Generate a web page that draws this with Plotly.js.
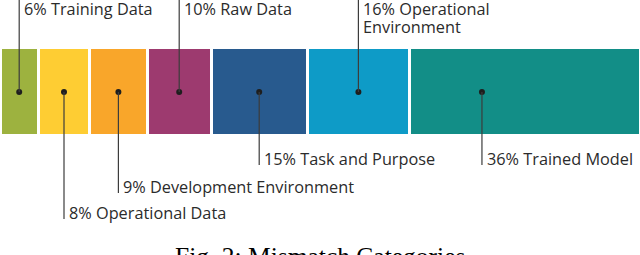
<!DOCTYPE html>
<html>
<head>
<meta charset="utf-8">
<script src="https://cdn.plot.ly/plotly-3.0.1.min.js"></script>
<style>html,body{margin:0;padding:0;background:#fff;}#chart{width:640px;height:255px;}</style>
</head>
<body>
<div id="chart"></div>
<script>
// ---- data ----
const categories = ['Training Data', 'Operational Data', 'Development Environment', 'Raw Data', 'Task and Purpose', 'Operational Environment', 'Trained Model'];
const percents = [6, 8, 9, 10, 15, 16, 36];
const labelTexts = ['6% Training Data', '8% Operational Data', '9% Development Environment', '10% Raw Data', '15% Task and Purpose', '16% Operational<br>Environment', '36% Trained Model'];
const caption = 'Fig. 2: Mismatch Categories';

// ---- styling / layout config ----
const colors = ['#9db23f', '#fecd33', '#f9a62a', '#9d3a6f', '#285a8e', '#0e9bc7', '#128e87'];
const labelSide = ['up', 'down', 'down', 'up', 'down', 'up', 'down'];
const labelRow = [9, 213, 187, 9, 159, 9, 159];   // first text line centre (pixel rows)
const lineStep = 18;
const dotFrac = [0.5, 0.5, 0.5, 0.5, 0.5, 0.5, 0.314];
const barCenter = 91.5, barThickness = 88, dotRow = 92;

const traces = [];
let cum = 0;
const dotX = [];
categories.forEach((c, i) => {
  traces.push({
    type: 'bar', orientation: 'h', name: c,
    x: [percents[i]], y: [barCenter], width: [barThickness],
    marker: {color: colors[i], line: {color: '#ffffff', width: 3}},
    hoverinfo: 'skip', showlegend: false
  });
  dotX.push(cum + dotFrac[i] * percents[i]);
  cum += percents[i];
});

const shapes = [];
const annotations = [];
categories.forEach((c, i) => {
  const up = labelSide[i] === 'up';
  shapes.push({
    type: 'line', xref: 'x', yref: 'y',
    x0: dotX[i], x1: dotX[i],
    y0: dotRow, y1: up ? 0 : labelRow[i] + 6,
    line: {color: '#3c3c3c', width: 1.2}
  });
  labelTexts[i].split('<br>').forEach((line, k) => {
    annotations.push({
      xref: 'x', yref: 'y', x: dotX[i], y: labelRow[i] + k * lineStep,
      xanchor: 'left', yanchor: 'middle', xshift: 3,
      text: line, showarrow: false, align: 'left',
      font: {family: 'Open Sans', size: 16.3, color: '#2b2b2b'}
    });
  });
});
annotations.push({
  xref: 'paper', yref: 'y', x: 0.5, y: 240, xanchor: 'center', yanchor: 'top',
  text: caption, showarrow: false,
  font: {family: 'Liberation Serif', size: 25.5, color: '#000000'}
});

traces.push({
  type: 'scatter', mode: 'markers', x: dotX, y: dotX.map(() => dotRow),
  marker: {color: '#1e1e1e', size: 6}, hoverinfo: 'skip', showlegend: false, cliponaxis: false
});

const layout = {
  width: 640, height: 255,
  margin: {l: 0, r: 0, t: 0, b: 0},
  paper_bgcolor: '#ffffff', plot_bgcolor: '#ffffff',
  barmode: 'stack',
  xaxis: {range: [0, 100], visible: false, fixedrange: true},
  yaxis: {range: [255, 0], visible: false, fixedrange: true},
  shapes: shapes, annotations: annotations, showlegend: false
};

Plotly.newPlot('chart', traces, layout, {displayModeBar: false, staticPlot: true});
</script>
</body>
</html>
